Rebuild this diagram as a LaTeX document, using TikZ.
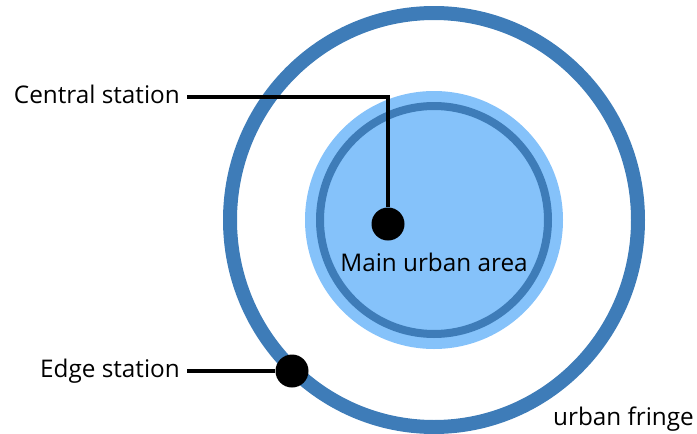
\documentclass[tikz,border=0pt]{standalone}
\usepackage{fontspec}
\setmainfont{Open Sans}
\definecolor{ringblue}{HTML}{3E7CB8}
\definecolor{areablue}{HTML}{85C2FA}
\tikzset{
    ring/.style={draw=ringblue, line width=14pt},
    station/.style={circle, fill=black, minimum size=33pt, inner sep=0pt},
    lbl/.style={font=\fontsize{24.3}{28}\selectfont, inner sep=0pt},
    tag/.style={lbl, inner xsep=7pt, text height=19pt, text depth=7pt},
    link/.style={line width=4pt, black},
}
\begin{document}
\begin{tikzpicture}[x=1pt, y=-1pt]
    \useasboundingbox (0,0) rectangle (697,434);
    \coordinate (O) at (434,220);

    \fill[areablue] (O) circle[radius=129];
    \draw[ringblue, line width=8pt] (O) circle[radius=114];
    \draw[ring] (O) circle[x radius=204, y radius=207];

    \node[station] (cdot) at (388,224) {};
    \node[station] (edot) at (292,371) {};

    \node[lbl, anchor=base] (main) at (434,271) {Main urban area};
    \node[lbl, anchor=base west] (fringe) at (553,425) {urban fringe};
    \node[tag, anchor=east] (central) at (187,97) {Central station};
    \node[tag, anchor=east] (edge) at (187,371) {Edge station};

    \draw[link] (central.east) -| (cdot);
    \draw[link] (edge.east) -- (edot);
\end{tikzpicture}
\end{document}
